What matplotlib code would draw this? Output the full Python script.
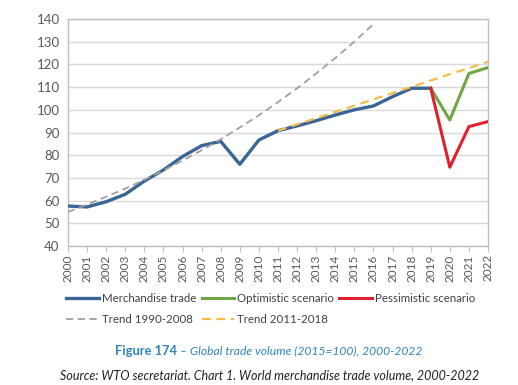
import numpy as np
import matplotlib.pyplot as plt

years = list(range(2000, 2023))
merch_years = list(range(2000, 2020))
merch = [57.6, 57.2, 59.5, 62.8, 68.6, 73.5, 79.4, 84.2, 86.1, 76.0,
         86.7, 90.8, 92.9, 95.2, 97.7, 100.0, 101.7, 105.8, 109.5, 109.5]
scen_years = [2019, 2020, 2021, 2022]
optimistic = [109.5, 95.5, 116.0, 118.6]
pessimistic = [109.5, 74.7, 92.6, 94.8]
trend1_years = list(range(2000, 2017))
trend1 = [55.0, 58.3, 61.7, 65.3, 69.2, 73.3, 77.6, 82.2, 87.0, 92.2,
          97.6, 103.4, 109.5, 116.0, 122.8, 130.0, 137.8]
trend2_years = list(range(2011, 2023))
trend2 = [90.8, 93.6, 96.3, 99.1, 101.8, 104.6, 107.4, 110.1, 112.9, 115.7, 118.4, 121.2]

plt.rcParams['font.family'] = ['Lato', 'DejaVu Sans']

fig = plt.figure(figsize=(5.18, 3.85), dpi=100)
ax = fig.add_axes([68/518, 1-246/385, 420/518, 227/385])

ax.plot(merch_years, merch, color='#3A6596', lw=2.4, label='Merchandise trade', zorder=3)
ax.plot(scen_years, optimistic, color='#6FA646', lw=2.2, label='Optimistic scenario', zorder=3)
ax.plot(scen_years, pessimistic, color='#E0202E', lw=2.2, label='Pessimistic scenario', zorder=3)
ax.plot(trend1_years, trend1, color='#A0A0A0', lw=1.3, ls=(0, (4, 2.5)), label='Trend 1990-2008', zorder=4)
ax.plot(trend2_years, trend2, color='#F5BC4A', lw=1.6, ls=(0, (4, 2.5)), label='Trend 2011-2018', zorder=4)

ax.set_xlim(2000, 2022)
ax.set_ylim(40, 140)
ax.set_yticks(range(40, 141, 10))
ax.set_xticks(years)
ax.set_xticklabels([str(y) for y in years], rotation=90, fontsize=8.5, color='#595959')
ax.tick_params(axis='y', length=0, labelsize=9.5, labelcolor='#595959', pad=6)
ax.tick_params(axis='x', length=4, color='#BFBFBF', pad=2)
ax.grid(axis='y', color='#D9D9D9', lw=1)
ax.set_axisbelow(True)
for s in ax.spines.values():
    s.set_color('#BFBFBF')
    s.set_linewidth(1)

h, l = ax.get_legend_handles_labels()
order = [0, 3, 1, 4, 2]
leg = fig.legend([h[i] for i in order], [l[i] for i in order], ncol=3,
                 loc='upper left', bbox_to_anchor=(56/518, 1-283/385),
                 frameon=False, fontsize=8.3, handlelength=2.8, handletextpad=0.3,
                 columnspacing=0.45, labelspacing=0.8, labelcolor='#404040')

# titulo en dos partes: negrita + cursiva
t1 = fig.text(115/518, 1-351/385, 'Figure 174', color='#2F86B8', fontsize=9.3,
              fontweight='bold', ha='left', va='center')
fig.canvas.draw()
bb = t1.get_window_extent()
fig.text((bb.x1 + 3)/518, 1-351/385, '\u2013 Global trade volume (2015=100), 2000-2022',
         color='#2F86B8', fontsize=8.7, style='italic', ha='left', va='center')
fig.text(60/518, 1-375/385, 'Source: WTO secretariat. Chart 1. World merchandise trade volume, 2000-2022',
         color='#222222', fontsize=9, style='italic', ha='left', va='center')

fig.savefig('out.png', dpi=100)
